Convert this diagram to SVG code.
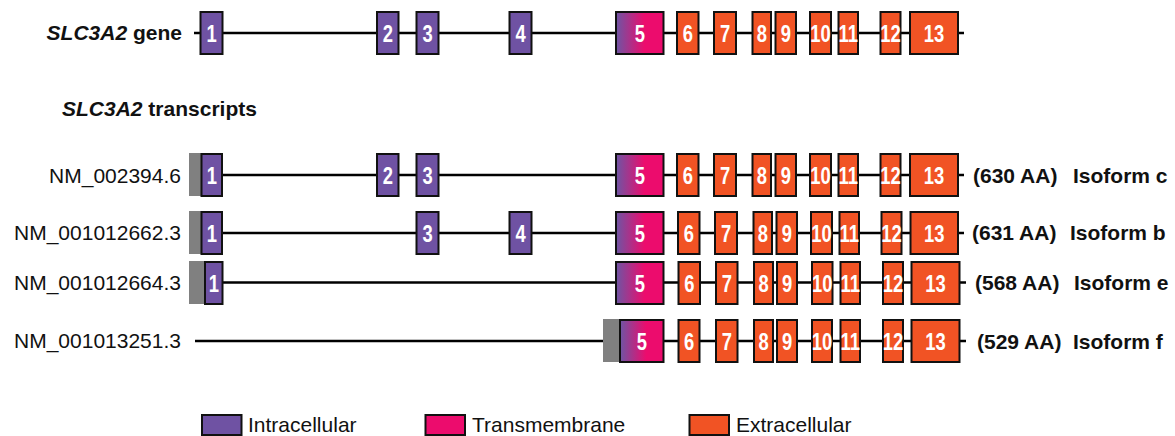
<svg xmlns="http://www.w3.org/2000/svg" width="1175" height="436" viewBox="0 0 1175 436">
<defs>
<linearGradient id="tm" x1="0" y1="0" x2="1" y2="0">
<stop offset="0" stop-color="#6d55a4"/>
<stop offset="0.6" stop-color="#ec0c6d"/>
<stop offset="1" stop-color="#ec0c6d"/>
</linearGradient>
</defs>
<style>
.ln{stroke:#000;stroke-width:2.5;fill:none}
.ic{fill:#6f52a3;stroke:#111;stroke-width:2}
.ex{fill:#f15324;stroke:#111;stroke-width:2}
.tmx{fill:url(#tm);stroke:#111;stroke-width:2}
.ut{fill:#808080}
.n{font-family:"Liberation Sans",Arial,sans-serif;font-weight:bold;font-size:23px;fill:#fff;text-anchor:middle}
.lab{font-family:"Liberation Sans",Arial,sans-serif;font-size:21px;fill:#111}
.b{font-family:"Liberation Sans",Arial,sans-serif;font-size:21px;font-weight:bold;fill:#111}
.r{text-anchor:end}
</style>
<g id="connectors">
<line class="ln" x1="194" y1="33" x2="964" y2="33"/>
<line class="ln" x1="201" y1="175" x2="964" y2="175"/>
<line class="ln" x1="201" y1="233" x2="964" y2="233"/>
<line class="ln" x1="205" y1="282.5" x2="966" y2="282.5"/>
<line class="ln" x1="195" y1="341" x2="966" y2="341"/>
</g>
<g id="gene">
<text class="b r" x="182" y="40"><tspan font-style="italic">SLC3A2</tspan> gene</text>
<rect class="ic" x="200.5" y="12" width="22" height="42"/><text class="n" transform="translate(211.5 41.5) scale(0.8 1)">1</text>
<rect class="ic" x="377" y="12" width="21.5" height="42"/><text class="n" transform="translate(387.75 41.5) scale(0.8 1)">2</text>
<rect class="ic" x="416.5" y="12" width="22" height="42"/><text class="n" transform="translate(427.5 41.5) scale(0.8 1)">3</text>
<rect class="ic" x="509.5" y="12" width="22" height="42"/><text class="n" transform="translate(520.5 41.5) scale(0.8 1)">4</text>
<rect class="tmx" x="616" y="12" width="47.5" height="42"/><text class="n" transform="translate(639.75 41.5) scale(0.8 1)">5</text>
<rect class="ex" x="677" y="12" width="21.5" height="42"/><text class="n" transform="translate(687.75 41.5) scale(0.8 1)">6</text>
<rect class="ex" x="714" y="12" width="22" height="42"/><text class="n" transform="translate(725 41.5) scale(0.8 1)">7</text>
<rect class="ex" x="752.5" y="12" width="18.5" height="42"/><text class="n" transform="translate(761.75 41.5) scale(0.8 1)">8</text>
<rect class="ex" x="775.5" y="12" width="20.5" height="42"/><text class="n" transform="translate(785.75 41.5) scale(0.8 1)">9</text>
<rect class="ex" x="810" y="12" width="21" height="42"/><text class="n" transform="translate(820.5 41.5) scale(0.8 1)">10</text>
<rect class="ex" x="838.5" y="12" width="19.5" height="42"/><text class="n" transform="translate(848.25 41.5) scale(0.8 1)">11</text>
<rect class="ex" x="880.5" y="12" width="20" height="42"/><text class="n" transform="translate(890.5 41.5) scale(0.8 1)">12</text>
<rect class="ex" x="910" y="12" width="48" height="42"/><text class="n" transform="translate(934 41.5) scale(0.8 1)">13</text>
</g>
<text class="b" x="62" y="116"><tspan font-style="italic">SLC3A2</tspan> transcripts</text>
<g id="t1">
<text class="lab r" x="181" y="183">NM_002394.6</text>
<rect class="ut" x="189" y="153" width="13" height="43"/>
<rect class="ic" x="201.5" y="154" width="20.5" height="42"/><text class="n" transform="translate(211.75 183.5) scale(0.8 1)">1</text>
<rect class="ic" x="377" y="154" width="21.5" height="42"/><text class="n" transform="translate(387.75 183.5) scale(0.8 1)">2</text>
<rect class="ic" x="416.5" y="154" width="22" height="42"/><text class="n" transform="translate(427.5 183.5) scale(0.8 1)">3</text>
<rect class="tmx" x="616" y="154" width="47.5" height="42"/><text class="n" transform="translate(639.75 183.5) scale(0.8 1)">5</text>
<rect class="ex" x="677" y="154" width="21.5" height="42"/><text class="n" transform="translate(687.75 183.5) scale(0.8 1)">6</text>
<rect class="ex" x="714" y="154" width="22" height="42"/><text class="n" transform="translate(725 183.5) scale(0.8 1)">7</text>
<rect class="ex" x="752.5" y="154" width="18.5" height="42"/><text class="n" transform="translate(761.75 183.5) scale(0.8 1)">8</text>
<rect class="ex" x="775.5" y="154" width="20.5" height="42"/><text class="n" transform="translate(785.75 183.5) scale(0.8 1)">9</text>
<rect class="ex" x="810" y="154" width="21" height="42"/><text class="n" transform="translate(820.5 183.5) scale(0.8 1)">10</text>
<rect class="ex" x="838.5" y="154" width="19.5" height="42"/><text class="n" transform="translate(848.25 183.5) scale(0.8 1)">11</text>
<rect class="ex" x="880.5" y="154" width="20" height="42"/><text class="n" transform="translate(890.5 183.5) scale(0.8 1)">12</text>
<rect class="ex" x="910" y="154" width="48" height="42"/><text class="n" transform="translate(934 183.5) scale(0.8 1)">13</text>
<text class="b" x="973" y="183">(630 AA)</text><text class="b" x="1073" y="183">Isoform c</text>
</g>
<g id="t2">
<text class="lab r" x="181" y="240">NM_001012662.3</text>
<rect class="ut" x="189" y="211" width="13" height="43"/>
<rect class="ic" x="201.5" y="212" width="20.5" height="42"/><text class="n" transform="translate(211.75 241.5) scale(0.8 1)">1</text>
<rect class="ic" x="416.5" y="212" width="22" height="42"/><text class="n" transform="translate(427.5 241.5) scale(0.8 1)">3</text>
<rect class="ic" x="509.5" y="212" width="22" height="42"/><text class="n" transform="translate(520.5 241.5) scale(0.8 1)">4</text>
<rect class="tmx" x="616" y="212" width="47.5" height="42"/><text class="n" transform="translate(639.75 241.5) scale(0.8 1)">5</text>
<rect class="ex" x="678" y="212" width="21.5" height="42"/><text class="n" transform="translate(688.75 241.5) scale(0.8 1)">6</text>
<rect class="ex" x="715" y="212" width="22" height="42"/><text class="n" transform="translate(726 241.5) scale(0.8 1)">7</text>
<rect class="ex" x="753.5" y="212" width="18.5" height="42"/><text class="n" transform="translate(762.75 241.5) scale(0.8 1)">8</text>
<rect class="ex" x="776.5" y="212" width="20.5" height="42"/><text class="n" transform="translate(786.75 241.5) scale(0.8 1)">9</text>
<rect class="ex" x="811" y="212" width="21" height="42"/><text class="n" transform="translate(821.5 241.5) scale(0.8 1)">10</text>
<rect class="ex" x="839.5" y="212" width="19.5" height="42"/><text class="n" transform="translate(849.25 241.5) scale(0.8 1)">11</text>
<rect class="ex" x="881.5" y="212" width="20" height="42"/><text class="n" transform="translate(891.5 241.5) scale(0.8 1)">12</text>
<rect class="ex" x="910.5" y="212" width="47.5" height="42"/><text class="n" transform="translate(934.25 241.5) scale(0.8 1)">13</text>
<text class="b" x="972" y="240">(631 AA)</text><text class="b" x="1070" y="240">Isoform b</text>
</g>
<g id="t3">
<text class="lab r" x="181" y="290">NM_001012664.3</text>
<rect class="ut" x="189" y="261" width="17" height="43"/>
<rect class="ic" x="205" y="262" width="17.5" height="42"/><text class="n" transform="translate(213.75 291.5) scale(0.8 1)">1</text>
<rect class="tmx" x="616" y="262" width="47.5" height="42"/><text class="n" transform="translate(639.75 291.5) scale(0.8 1)">5</text>
<rect class="ex" x="678.5" y="262" width="21.5" height="42"/><text class="n" transform="translate(689.25 291.5) scale(0.8 1)">6</text>
<rect class="ex" x="716" y="262" width="21.5" height="42"/><text class="n" transform="translate(726.75 291.5) scale(0.8 1)">7</text>
<rect class="ex" x="754" y="262" width="19" height="42"/><text class="n" transform="translate(763.5 291.5) scale(0.8 1)">8</text>
<rect class="ex" x="777" y="262" width="20" height="42"/><text class="n" transform="translate(787 291.5) scale(0.8 1)">9</text>
<rect class="ex" x="812" y="262" width="20.5" height="42"/><text class="n" transform="translate(822.25 291.5) scale(0.8 1)">10</text>
<rect class="ex" x="840.5" y="262" width="19.5" height="42"/><text class="n" transform="translate(850.25 291.5) scale(0.8 1)">11</text>
<rect class="ex" x="883" y="262" width="20" height="42"/><text class="n" transform="translate(893 291.5) scale(0.8 1)">12</text>
<rect class="ex" x="911.5" y="262" width="48" height="42"/><text class="n" transform="translate(935.5 291.5) scale(0.8 1)">13</text>
<text class="b" x="975" y="290">(568 AA)</text><text class="b" x="1074" y="290">Isoform e</text>
</g>
<g id="t4">
<text class="lab r" x="181" y="348">NM_001013251.3</text>
<rect class="ut" x="603" y="319" width="18" height="43"/>
<rect class="tmx" x="620" y="320" width="43.5" height="42"/><text class="n" transform="translate(641.75 349.5) scale(0.8 1)">5</text>
<rect class="ex" x="678.5" y="320" width="21" height="42"/><text class="n" transform="translate(689 349.5) scale(0.8 1)">6</text>
<rect class="ex" x="716" y="320" width="21.5" height="42"/><text class="n" transform="translate(726.75 349.5) scale(0.8 1)">7</text>
<rect class="ex" x="754" y="320" width="19" height="42"/><text class="n" transform="translate(763.5 349.5) scale(0.8 1)">8</text>
<rect class="ex" x="777" y="320" width="20" height="42"/><text class="n" transform="translate(787 349.5) scale(0.8 1)">9</text>
<rect class="ex" x="812" y="320" width="20" height="42"/><text class="n" transform="translate(822 349.5) scale(0.8 1)">10</text>
<rect class="ex" x="840.5" y="320" width="19.5" height="42"/><text class="n" transform="translate(850.25 349.5) scale(0.8 1)">11</text>
<rect class="ex" x="883" y="320" width="20" height="42"/><text class="n" transform="translate(893 349.5) scale(0.8 1)">12</text>
<rect class="ex" x="911.5" y="320" width="48" height="42"/><text class="n" transform="translate(935.5 349.5) scale(0.8 1)">13</text>
<text class="b" x="977" y="349">(529 AA)</text><text class="b" x="1073" y="349">Isoform f</text>
</g>
<g id="legend">
<rect class="ic" x="202" y="415" width="39.5" height="20"/>
<text class="lab" x="248" y="432">Intracellular</text>
<rect fill="#ec0c6d" stroke="#111" stroke-width="2" x="425.5" y="415" width="39.5" height="20"/>
<text class="lab" x="472" y="432">Transmembrane</text>
<rect class="ex" x="689.5" y="415" width="39.5" height="20"/>
<text class="lab" x="736" y="432">Extracellular</text>
</g>
</svg>
